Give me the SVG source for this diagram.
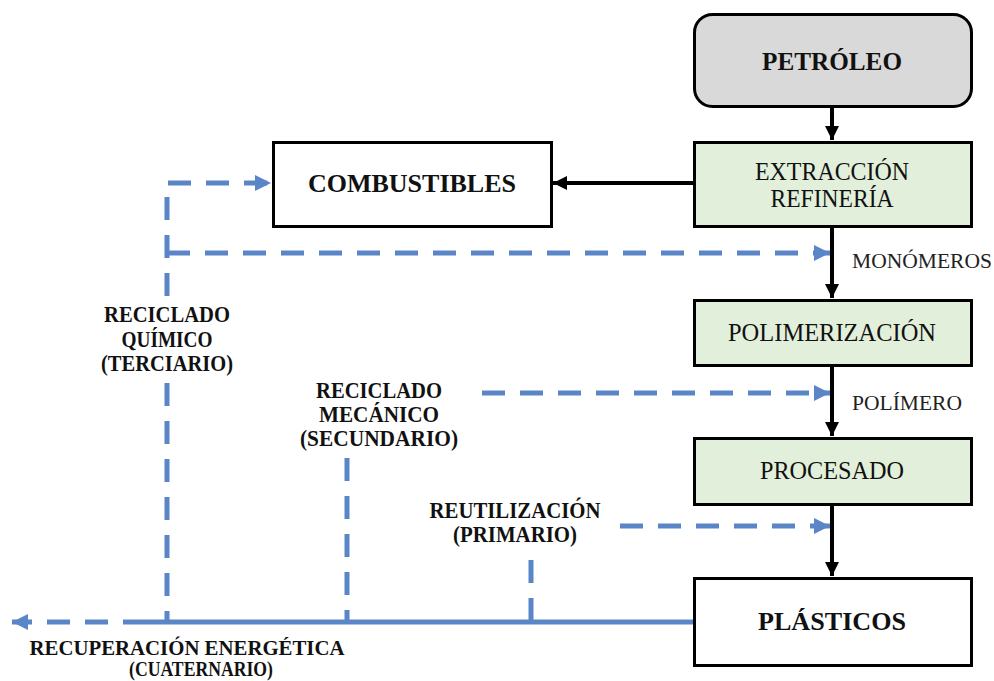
<svg xmlns="http://www.w3.org/2000/svg" width="994" height="681" viewBox="0 0 994 681">
  <defs>
    <marker id="ah" viewBox="0 0 10 10" refX="10" refY="5" markerWidth="3.6" markerHeight="3.6" markerUnits="strokeWidth" orient="auto">
      <path d="M0,0 L10,5 L0,10 z" fill="#000"/>
    </marker>
    <marker id="bh" viewBox="0 0 10 10" refX="10" refY="5" markerWidth="3.2" markerHeight="3.2" markerUnits="strokeWidth" orient="auto">
      <path d="M0,0 L10,5 L0,10 z" fill="#5a85c6"/>
    </marker>
  </defs>
  <style>
    .box { stroke: #000; stroke-width: 3; }
    .green { fill: #e2efda; }
    .white { fill: #fff; }
    .t { font-family: "Liberation Serif", "Times New Roman", serif; fill: #111; text-anchor: middle; }
    .big { font-size: 26px; font-weight: bold; }
    .reg { font-size: 25px; }
    .lab { font-size: 24px; font-weight: bold; }
    .bot { font-size: 20px; font-weight: bold; }
    .side { font-family: "Liberation Serif", serif; font-size: 21px; fill: #222; }
    .blk { stroke: #000; stroke-width: 4; fill: none; }
    .dash { stroke: #5a85c6; stroke-width: 5; fill: none; stroke-dasharray: 23 15; }
    .solid { stroke: #5a85c6; stroke-width: 5; fill: none; }
  </style>

  <rect width="994" height="681" fill="#fff"/>

  <!-- connectors -->
  <g id="connectors">
    <line class="blk" x1="832" y1="106" x2="832" y2="140" marker-end="url(#ah)"/>
    <line class="blk" x1="694" y1="183" x2="553" y2="183" marker-end="url(#ah)"/>
    <line class="blk" x1="832" y1="226" x2="832" y2="298" marker-end="url(#ah)"/>
    <line class="blk" x1="832" y1="365" x2="832" y2="436" marker-end="url(#ah)"/>
    <line class="blk" x1="832" y1="504" x2="832" y2="576" marker-end="url(#ah)"/>

    <!-- recovery paths -->
    <line class="solid" x1="694" y1="622" x2="146" y2="622"/>
    <line class="dash" x1="146" y1="622" x2="12" y2="622" stroke-dasharray="20 13" marker-end="url(#bh)"/>

    <!-- chemical recycling -->
    <path class="dash" d="M167,296 L167,183 L271,183" marker-end="url(#bh)"/>
    <line class="dash" x1="167" y1="253" x2="830" y2="253" marker-end="url(#bh)"/>
    <line class="dash" x1="167" y1="383" x2="167" y2="620"/>

    <!-- mechanical recycling -->
    <line class="dash" x1="347" y1="458" x2="347" y2="620"/>
    <line class="dash" x1="482" y1="393" x2="830" y2="393" marker-end="url(#bh)"/>

    <!-- reuse -->
    <line class="dash" x1="531" y1="560" x2="531" y2="620"/>
    <line class="dash" x1="620" y1="526" x2="830" y2="526" marker-end="url(#bh)"/>
  </g>

  <g id="petroleo">
    <rect class="box" x="694.5" y="14.5" width="277" height="92" rx="18" fill="#d9d9d9"/>
    <text class="t big" x="832" y="70" textLength="140" lengthAdjust="spacingAndGlyphs">PETRÓLEO</text>
  </g>

  <g id="extraccion">
    <rect class="box green" x="694.5" y="142.5" width="277" height="84"/>
    <text class="t reg" x="832" y="180" textLength="154" lengthAdjust="spacingAndGlyphs">EXTRACCIÓN</text>
    <text class="t reg" x="832" y="207" textLength="123" lengthAdjust="spacingAndGlyphs">REFINERÍA</text>
  </g>

  <g id="combustibles">
    <rect class="box white" x="273.5" y="142.5" width="278" height="84"/>
    <text class="t big" x="412" y="192" textLength="208" lengthAdjust="spacingAndGlyphs">COMBUSTIBLES</text>
  </g>

  <g id="polimerizacion">
    <rect class="box green" x="694.5" y="300.5" width="277" height="65"/>
    <text class="t reg" x="832" y="341" textLength="208" lengthAdjust="spacingAndGlyphs">POLIMERIZACIÓN</text>
  </g>

  <g id="procesado">
    <rect class="box green" x="694.5" y="438.5" width="277" height="66"/>
    <text class="t reg" x="832" y="479" textLength="144" lengthAdjust="spacingAndGlyphs">PROCESADO</text>
  </g>

  <g id="plasticos">
    <rect class="box white" x="694.5" y="578.5" width="277" height="87"/>
    <text class="t big" x="832" y="630" textLength="148" lengthAdjust="spacingAndGlyphs">PLÁSTICOS</text>
  </g>

  <g id="labels">
    <text class="side" x="852" y="268" textLength="140" lengthAdjust="spacingAndGlyphs">MONÓMEROS</text>
    <text class="side" x="852" y="410" textLength="110" lengthAdjust="spacingAndGlyphs">POLÍMERO</text>

    <text class="t lab" x="167" y="322" textLength="126" lengthAdjust="spacingAndGlyphs">RECICLADO</text>
    <text class="t lab" x="167" y="347" textLength="91" lengthAdjust="spacingAndGlyphs">QUÍMICO</text>
    <text class="t lab" x="167" y="371" textLength="132" lengthAdjust="spacingAndGlyphs">(TERCIARIO)</text>

    <text class="t lab" x="379" y="398" textLength="126" lengthAdjust="spacingAndGlyphs">RECICLADO</text>
    <text class="t lab" x="379" y="422" textLength="120" lengthAdjust="spacingAndGlyphs">MECÁNICO</text>
    <text class="t lab" x="379" y="446" textLength="158" lengthAdjust="spacingAndGlyphs">(SECUNDARIO)</text>

    <text class="t lab" x="515" y="518" textLength="171" lengthAdjust="spacingAndGlyphs">REUTILIZACIÓN</text>
    <text class="t lab" x="515" y="542" textLength="124" lengthAdjust="spacingAndGlyphs">(PRIMARIO)</text>

    <text class="t bot" x="187" y="655" textLength="315" lengthAdjust="spacingAndGlyphs">RECUPERACIÓN ENERGÉTICA</text>
    <text class="t bot" x="201" y="676" textLength="144" lengthAdjust="spacingAndGlyphs">(CUATERNARIO)</text>
  </g>
</svg>
